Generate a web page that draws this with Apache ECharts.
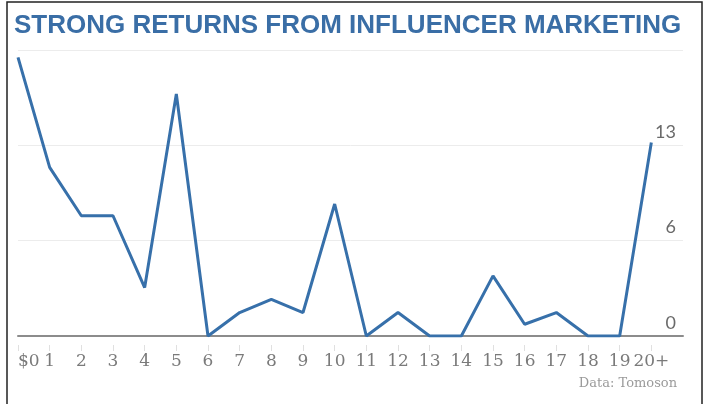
<!DOCTYPE html>
<html>
<head>
<meta charset="utf-8">
<script src="https://cdn.jsdelivr.net/npm/echarts@6/dist/echarts.min.js"></script>
<style>
  html, body { margin: 0; padding: 0; background: #fff; }
  #main { width: 704px; height: 404px; }
</style>
</head>
<body>
<div id="main"></div>
<script>
// spend buckets ($ per $1), last slot left empty so the line stops short of the grid edge
var categories = ['$0', '1', '2', '3', '4', '5', '6', '7', '8', '9', '10',
    '11', '12', '13', '14', '15', '16', '17', '18', '19', '20+', ''];
var returns = [19.0, 11.5, 8.2, 8.2, 3.3, 16.5, 0, 1.6, 2.5, 1.6, 9.0,
    0, 1.6, 0, 0, 4.1, 0.8, 1.6, 0, 0, 13.2];
var yTicks = [0, 6.5, 13, 19.5];

var blue = '#3770aa';
var myChart = echarts.init(document.getElementById('main'));

myChart.setOption({
    animation: false,
    backgroundColor: '#fff',
    title: {
        text: 'STRONG RETURNS FROM INFLUENCER MARKETING',
        left: 14,
        top: 13,
        padding: 0,
        textStyle: {
            fontFamily: 'Liberation Sans',
            fontWeight: 'bold',
            fontSize: 26,
            color: '#3a6ea6'
        }
    },
    graphic: [
        {
            type: 'rect',
            shape: { x: 7, y: 2, width: 695, height: 420 },
            style: { fill: 'none', stroke: '#222', lineWidth: 1.5 },
            silent: true
        },
        {
            type: 'text',
            right: 27,
            top: 377,
            style: {
                text: 'Data: Tomoson',
                font: '13px "DejaVu Serif"',
                fill: '#9a9a9a'
            }
        }
    ],
    grid: { left: 18, right: 21, top: 50, bottom: 68 },
    xAxis: [
        {
            type: 'category',
            data: categories,
            boundaryGap: false,
            axisLine: { lineStyle: { color: '#8c8c8c', width: 2 } },
            axisTick: { show: false },
            axisLabel: {
                interval: 0,
                margin: 17,
                alignMinLabel: 'left',
                fontFamily: 'DejaVu Serif',
                fontSize: 17,
                color: '#7a7a7a'
            }
        },
        {
            type: 'category',
            data: categories,
            boundaryGap: false,
            position: 'bottom',
            offset: 9,
            axisLine: { show: false },
            axisTick: {
                length: 6,
                interval: function (i) { return i < categories.length - 1; },
                lineStyle: { color: '#e0e0e0' }
            },
            axisLabel: { show: false }
        }
    ],
    yAxis: {
        type: 'value',
        position: 'right',
        min: yTicks[0],
        max: yTicks[yTicks.length - 1],
        interval: yTicks[1] - yTicks[0],
        axisLine: { show: false },
        axisTick: { show: false },
        splitLine: { lineStyle: { color: '#ececec', width: 1 } },
        axisLabel: {
            inside: true,
            showMaxLabel: false,
            margin: 7,
            verticalAlign: 'bottom',
            padding: [0, 0, 4, 0],
            fontFamily: 'Lato',
            fontSize: 18,
            color: '#6a6a6a',
            formatter: function (v) { return String(Math.floor(v)); }
        }
    },
    series: [{
        type: 'line',
        data: returns,
        symbol: 'none',
        lineStyle: { color: blue, width: 3 },
        itemStyle: { color: blue },
        z: 5
    }]
});
</script>
</body>
</html>
